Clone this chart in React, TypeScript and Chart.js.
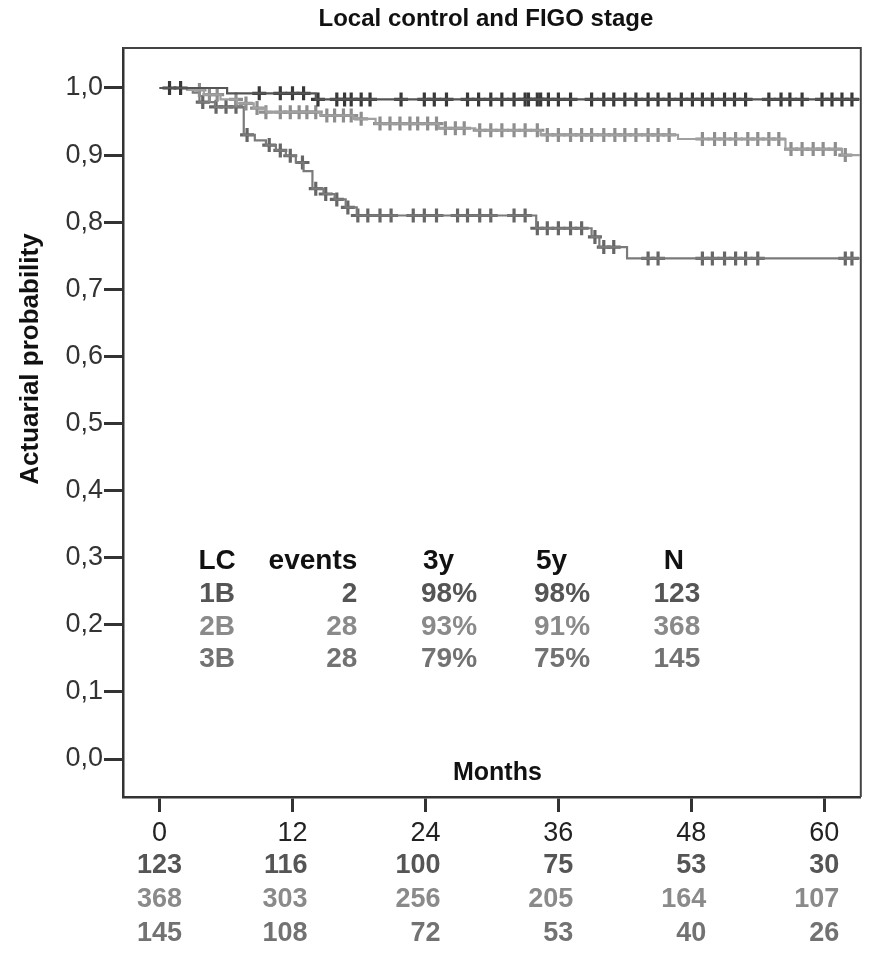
import { useEffect, useRef } from 'react';
import { Chart, registerables } from 'chart.js';

Chart.register(...registerables);

const FONT = "'Liberation Sans', Arial, Helvetica, sans-serif";

const TITLE = 'Local control and FIGO stage';
const Y_TITLE = 'Actuarial probability';
const X_TITLE = 'Months';

const X_TICKS = [0, 12, 24, 36, 48, 60];
const Y_TICKS = [0, 0.1, 0.2, 0.3, 0.4, 0.5, 0.6, 0.7, 0.8, 0.9, 1.0];

const GROUPS = ['1B', '2B', '3B'];
const FOLLOW_UP_END = 63.2;

// Kaplan-Meier steps: event times (months) and local control after each step
const STEP_T_1B = [0, 6.1, 14.1];
const STEP_S_1B = [1.0, 0.992, 0.983];
const CENSOR_1B = [
  0.9, 1.9, 9.0, 10.9, 12.0, 13.0, 14.3, 16.0, 16.7, 17.3, 18.2, 19.0, 21.8, 23.9, 24.8,
  25.9, 27.8, 28.8, 29.9, 30.9, 32.0, 33.0, 33.3, 34.1, 34.4, 35.1, 36.0, 37.1, 39.0,
  40.1, 41.0, 42.0, 43.0, 44.1, 45.0, 46.0, 47.1, 48.1, 49.0, 49.9, 51.0, 51.9, 52.9,
  55.0, 56.1, 56.9, 58.0, 59.8, 60.7, 61.6, 62.5,
];

const STEP_T_2B = [0, 2.5, 4.0, 5.5, 7.0, 8.5, 9.6, 14.5, 17.5, 19.5, 25.2, 28.5, 34.4, 46.8, 56.5, 61.6];
const STEP_S_2B = [1.0, 0.997, 0.99, 0.983, 0.977, 0.97, 0.964, 0.959, 0.954, 0.947, 0.94, 0.937, 0.93, 0.924, 0.909, 0.9];
const CENSOR_2B = [
  3.6, 4.5, 5.2, 6.9, 7.8, 8.8, 9.6, 10.9, 11.8, 12.6, 13.3, 14.1, 15.1, 15.8, 16.6, 17.3,
  18.2, 19.9, 20.8, 21.7, 22.6, 23.3, 24.2, 25.0, 25.8, 26.7, 27.5, 28.9, 29.9, 30.9,
  32.0, 33.0, 34.1, 35.0, 36.0, 37.1, 38.1, 39.0, 40.1, 41.1, 42.0, 43.0, 44.1, 45.0,
  46.0, 49.0, 50.1, 51.0, 52.0, 53.1, 54.0, 55.0, 55.9, 57.0, 58.0, 59.0, 59.9, 61.0, 61.9,
];

const STEP_T_3B = [0, 3.0, 3.6, 5.0, 7.6, 8.6, 9.6, 10.5, 11.4, 12.3, 13.0, 13.8, 14.8, 15.8, 16.8, 17.8, 34.0, 39.0, 39.7, 42.2];
const STEP_S_3B = [1.0, 0.993, 0.979, 0.972, 0.93, 0.922, 0.915, 0.907, 0.899, 0.889, 0.876, 0.85, 0.842, 0.834, 0.822, 0.81, 0.791, 0.778, 0.763, 0.746];
const CENSOR_3B = [
  3.9, 5.1, 6.0, 6.9, 7.9, 9.9, 10.9, 11.8, 12.9, 14.1, 15.0, 16.0, 17.0, 17.9, 18.8, 19.9,
  20.9, 22.9, 23.9, 25.0, 26.9, 27.8, 28.9, 29.9, 32.0, 33.0, 34.1, 35.0, 36.0, 37.1,
  38.1, 39.3, 40.1, 41.0, 44.1, 45.0, 49.0, 49.9, 51.0, 52.0, 52.9, 54.0, 61.9, 62.5,
];

// Summary table
const TABLE_HEAD = ['LC', 'events', '3y', '5y', 'N'];
const EVENTS = [2, 28, 28];
const LC_3Y = ['98%', '93%', '79%'];
const LC_5Y = ['98%', '91%', '75%'];
const N_TOTAL = [123, 368, 145];

// Numbers at risk at each x tick
const RISK_1B = [123, 116, 100, 75, 53, 30];
const RISK_2B = [368, 303, 256, 205, 164, 107];
const RISK_3B = [145, 108, 72, 53, 40, 26];

const LINE_COLORS = ['#555555', '#a0a0a0', '#7a7a7a'];
const MARK_COLORS = ['#383838', '#8e8e8e', '#666666'];
const TEXT_COLORS = ['#555555', '#8a8a8a', '#727272'];

function stepAt(T: number[], S: number[], t: number): number {
  let v = S[0];
  for (let i = 0; i < T.length; i++) if (T[i] <= t) v = S[i];
  return v;
}

function curvePoints(T: number[], S: number[]) {
  const pts = T.map((t, i) => ({ x: t, y: S[i] }));
  pts.push({ x: FOLLOW_UP_END, y: S[S.length - 1] });
  return pts;
}

function censorPoints(T: number[], S: number[], C: number[]) {
  return C.map((t) => ({ x: t, y: stepAt(T, S, t) }));
}

const annotations = {
  id: 'kmAnnotations',
  afterDraw(chart: any) {
    const { ctx, chartArea } = chart;
    const xs = chart.scales.x;
    const ys = chart.scales.y;
    const { left, right, top, bottom } = chartArea;
    ctx.save();

    // frame: top and right edges
    ctx.strokeStyle = '#444';
    ctx.lineWidth = 2;
    ctx.beginPath();
    ctx.moveTo(left, top);
    ctx.lineTo(right, top);
    ctx.lineTo(right, bottom);
    ctx.stroke();

    ctx.textBaseline = 'middle';

    // title
    ctx.fillStyle = '#111';
    ctx.font = `bold 24px ${FONT}`;
    ctx.textAlign = 'center';
    ctx.fillText(TITLE, (left + right) / 2 - 6, 19);

    // y axis title
    ctx.save();
    ctx.translate(31, 359);
    ctx.rotate(-Math.PI / 2);
    ctx.font = `bold 26px ${FONT}`;
    ctx.fillText(Y_TITLE, 0, 0);
    ctx.restore();

    // x axis title, inside the plot
    ctx.font = `bold 25px ${FONT}`;
    ctx.fillText(X_TITLE, xs.getPixelForValue(30.5), bottom - 24);

    // summary table
    const rowY = [0.295, 0.246, 0.197, 0.148].map((v) => ys.getPixelForValue(v));
    const colLC = xs.getPixelForValue(5.2);
    const colEvents = xs.getPixelForValue(17.85);
    const col3y = xs.getPixelForValue(23.6);
    const col5y = xs.getPixelForValue(33.8);
    const colN = xs.getPixelForValue(46.7);
    ctx.font = `bold 28px ${FONT}`;
    ctx.fillStyle = '#111';
    ctx.textAlign = 'center';
    ctx.fillText(TABLE_HEAD[0], colLC, rowY[0]);
    ctx.textAlign = 'right';
    ctx.fillText(TABLE_HEAD[1], colEvents, rowY[0]);
    ctx.textAlign = 'left';
    ctx.fillText(TABLE_HEAD[2], col3y + 2, rowY[0]);
    ctx.fillText(TABLE_HEAD[3], col5y + 2, rowY[0]);
    ctx.textAlign = 'center';
    ctx.fillText(TABLE_HEAD[4], colN - 3, rowY[0]);
    GROUPS.forEach((g, i) => {
      const y = rowY[i + 1];
      ctx.fillStyle = TEXT_COLORS[i];
      ctx.textAlign = 'center';
      ctx.fillText(g, colLC, y);
      ctx.textAlign = 'right';
      ctx.fillText(String(EVENTS[i]), colEvents, y);
      ctx.textAlign = 'left';
      ctx.fillText(LC_3Y[i], col3y, y);
      ctx.fillText(LC_5Y[i], col5y, y);
      ctx.textAlign = 'center';
      ctx.fillText(String(N_TOTAL[i]), colN, y);
    });

    // numbers at risk under the x axis
    const riskRows = [RISK_1B, RISK_2B, RISK_3B];
    const riskY = [bottom + 69, bottom + 103, bottom + 137];
    ctx.font = `bold 27px ${FONT}`;
    riskRows.forEach((row, r) => {
      ctx.fillStyle = TEXT_COLORS[r];
      row.forEach((n, k) => {
        const px = xs.getPixelForValue(X_TICKS[k]);
        if (k === 0) {
          ctx.textAlign = 'center';
          ctx.fillText(String(n), px, riskY[r]);
        } else {
          ctx.textAlign = 'right';
          ctx.fillText(String(n), px + 15, riskY[r]);
        }
      });
    });

    ctx.restore();
  },
};

export default function App() {
  const canvasRef = useRef<HTMLCanvasElement | null>(null);

  useEffect(() => {
    const canvas = canvasRef.current;
    if (!canvas) return;

    const series = [
      [STEP_T_1B, STEP_S_1B, CENSOR_1B],
      [STEP_T_2B, STEP_S_2B, CENSOR_2B],
      [STEP_T_3B, STEP_S_3B, CENSOR_3B],
    ] as number[][][];

    const datasets: any[] = [];
    series.forEach(([T, S, C], i) => {
      datasets.push({
        type: 'line',
        label: GROUPS[i],
        data: curvePoints(T, S),
        stepped: 'before',
        borderColor: LINE_COLORS[i],
        borderWidth: 2.2,
        pointRadius: 0,
        fill: false,
        order: i,
      });
      datasets.push({
        type: 'scatter',
        label: GROUPS[i] + ' censored',
        data: censorPoints(T, S, C),
        pointStyle: 'cross',
        pointRadius: 7,
        borderColor: MARK_COLORS[i],
        backgroundColor: MARK_COLORS[i],
        borderWidth: 3.2,
        showLine: false,
        order: i,
      });
    });

    const chart = new Chart(canvas, {
      type: 'line',
      data: { datasets },
      options: {
        animation: false,
        responsive: false,
        devicePixelRatio: 1,
        layout: { padding: { top: 48, right: 5, left: 0, bottom: 0 } },
        plugins: {
          legend: { display: false },
          tooltip: { enabled: false },
          title: { display: false },
        },
        scales: {
          x: {
            type: 'linear',
            min: -3.3,
            max: 63.3,
            afterBuildTicks: (s: any) => {
              s.ticks = X_TICKS.map((v) => ({ value: v }));
            },
            afterFit: (s: any) => {
              s.height = 169;
            },
            ticks: {
              color: '#222',
              font: { family: FONT, size: 27 },
              padding: 5,
              maxRotation: 0,
              autoSkip: false,
              callback: (v: any) => String(v),
            },
            grid: {
              drawOnChartArea: false,
              drawTicks: true,
              tickLength: 15,
              tickWidth: 3,
              tickColor: '#333',
            },
            border: { display: true, color: '#333', width: 2.5 },
          },
          y: {
            type: 'linear',
            min: -0.0566,
            max: 1.0596,
            afterBuildTicks: (s: any) => {
              s.ticks = Y_TICKS.map((v) => ({ value: v }));
            },
            afterFit: (s: any) => {
              s.width = 123;
            },
            ticks: {
              color: '#333',
              font: { family: FONT, size: 27 },
              padding: 1,
              autoSkip: false,
              callback: (v: any) => Number(v).toFixed(1).replace('.', ','),
            },
            grid: {
              drawOnChartArea: false,
              drawTicks: true,
              tickLength: 19,
              tickWidth: 3,
              tickColor: '#333',
            },
            border: { display: true, color: '#333', width: 2.5 },
          },
        },
      },
      plugins: [annotations],
    } as any);

    return () => chart.destroy();
  }, []);

  return (
    <div style={{ position: 'absolute', left: 0, top: 0, width: 871, height: 966, background: '#fff' }}>
      <canvas ref={canvasRef} width={871} height={966} />
    </div>
  );
}
